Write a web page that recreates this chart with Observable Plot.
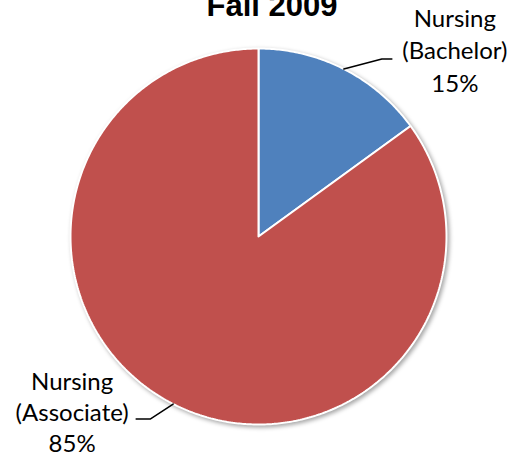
<!DOCTYPE html>
<html>
<head>
<meta charset="utf-8">
<script src="https://cdn.jsdelivr.net/npm/d3@7"></script>
<script src="https://cdn.jsdelivr.net/npm/@observablehq/plot@0.6"></script>
<style>
  html, body { margin: 0; padding: 0; background: #fff; }
  #chart { position: relative; width: 513px; height: 456px; overflow: hidden; }
  #chart .slices { filter: drop-shadow(2px 2px 2px rgba(0,0,0,0.35)); }
</style>
</head>
<body>
<div id="chart"></div>
<script>
// ---- data ----
const title = "Fall 2009";
const categories = ["Nursing (Bachelor)", "Nursing (Associate)"];
const labelLines = [["Nursing", "(Bachelor)"], ["Nursing", "(Associate)"]];
const values = [15, 85];
const colors = ["#4F81BD", "#C0504D"];

// ---- geometry helpers (unit circle in data space) ----
const W = 513, H = 456, R = 188, CX = 258, CY = 236;
const total = d3.sum(values);
const arcs = d3.pie().sort(null).value(d => d)(values);

const slicePts = [];
arcs.forEach((a, i) => {
  slicePts.push({k: categories[i], x: 0, y: 0});
  const n = Math.max(2, Math.ceil((a.endAngle - a.startAngle) / 0.01));
  for (let j = 0; j <= n; j++) {
    const t = a.startAngle + (a.endAngle - a.startAngle) * j / n;
    slicePts.push({k: categories[i], x: Math.sin(t), y: Math.cos(t)});
  }
  slicePts.push({k: categories[i], x: 0, y: 0});
});

// leader lines: edge at mid-angle -> elbow -> short horizontal
const elbowOff = [[38, -10, 10], [-23, 15, -14]]; // pixel offsets (layout)
const leaderPts = [];
const labelPos = [];
arcs.forEach((a, i) => {
  const m = (a.startAngle + a.endAngle) / 2;
  const x0 = Math.sin(m), y0 = Math.cos(m);
  const [ex, ey, hx] = elbowOff[i];
  const x1 = x0 + ex / R, y1 = y0 - ey / R;
  const x2 = x1 + hx / R;
  leaderPts.push({k: categories[i], x: x0, y: y0}, {k: categories[i], x: x1, y: y1}, {k: categories[i], x: x2, y: y1});
  const pct = Math.round(values[i] / total * 100) + "%";
  labelPos.push({k: categories[i], x: x2, y: y1, text: [...labelLines[i], pct].join("\n"), side: i});
});

const scales = {
  x: {domain: [-1, 1], range: [CX - R, CX + R], axis: null},
  y: {domain: [-1, 1], range: [CY + R, CY - R], axis: null},
  color: {domain: categories, range: colors}
};

const plot = Plot.plot({
  width: W, height: H,
  margin: 0,
  ...scales,
  style: {background: "#fff", overflow: "visible"},
  marks: [
    Plot.line(slicePts, {x: "x", y: "y", z: "k", fill: "k", stroke: "#fff", strokeWidth: 2, strokeLinejoin: "miter", className: "slices"}),
    Plot.line(leaderPts, {x: "x", y: "y", z: "k", stroke: "#000", strokeWidth: 1.5}),
    Plot.text(labelPos.filter(d => d.side === 0), {x: "x", y: "y", text: "text", dx: 63, dy: -10, textAnchor: "middle", lineAnchor: "middle", lineHeight: 1.36, fontSize: 24, fontFamily: "Lato", fill: "#000"}),
    Plot.text(labelPos.filter(d => d.side === 1), {x: "x", y: "y", text: "text", dx: -64, dy: -8, textAnchor: "middle", lineAnchor: "middle", lineHeight: 1.3, fontSize: 24, fontFamily: "Lato", fill: "#000"}),
    Plot.text([title], {frameAnchor: "top", text: d => d, dx: 15, dy: 15, lineAnchor: "bottom", fontSize: 31, fontWeight: "bold", fontFamily: "Liberation Sans, Arial", fill: "#000"})
  ]
});
document.getElementById("chart").appendChild(plot);
</script>
</body>
</html>
